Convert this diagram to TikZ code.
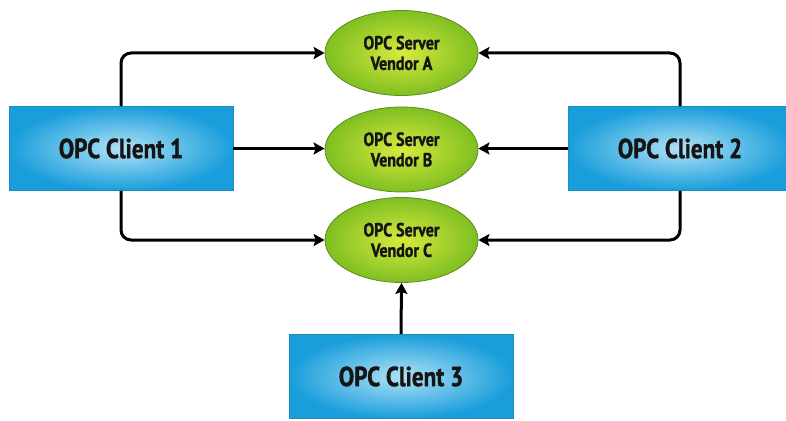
\documentclass[tikz,border=0pt]{standalone}
\usepackage{fontspec}
\setmainfont{PT Sans}[FakeStretch=0.84,BoldFeatures={FakeBold=1.3}]
\usetikzlibrary{arrows.meta,shapes.geometric,calc}
\definecolor{boxedge}{HTML}{1C8CC4}
\definecolor{boxout}{HTML}{1A9EDB}
\definecolor{boxin}{HTML}{B0E2F6}
\definecolor{ellout}{HTML}{7FBF22}
\definecolor{ellin}{HTML}{D8EA3C}
\definecolor{elledge}{HTML}{5E8A1E}
\definecolor{txt}{HTML}{151515}
\tikzset{
  client/.style={rectangle, draw=boxedge, line width=0.8pt, inner color=boxin, outer color=boxout,
    minimum width=224pt, minimum height=84pt, font=\bfseries\fontsize{27.5}{30}\selectfont, text=txt},
  server/.style={ellipse, draw=elledge, line width=0.8pt, inner color=ellin, outer color=ellout,
    minimum width=153pt, minimum height=85pt, inner sep=0pt, align=center,
    font=\bfseries\fontsize{19}{20.5}\selectfont, text=txt},
  conn/.style={line width=3pt, draw=black, rounded corners=10pt,
    -{Stealth[length=11pt,width=12pt,inset=2pt]}}
}
\begin{document}
\begin{tikzpicture}[x=1pt,y=-1pt]
\useasboundingbox[fill=white] (0,0) rectangle (786,420);
\node[server] (A) at (401.5,53) {OPC Server\\Vendor A};
\node[server] (B) at (401.5,149.5) {OPC Server\\Vendor B};
\node[server] (C) at (401.5,240) {OPC Server\\Vendor C};
\node[client] (c1) at (121,148.5) {OPC Client 1};
\node[client] (c2) at (680,148.5) {OPC Client 2};
\node[client] (c3) at (401,376.5) {OPC Client 3};
\draw[conn] (c1.north) |- (A.west);
\draw[conn] (c1.south) |- (C.west);
\draw[conn] (c1.east) -- (c1.east -| B.west);
\draw[conn] (c2.north) |- (A.east);
\draw[conn] (c2.south) |- (C.east);
\draw[conn] (c2.west) -- (c2.west -| B.east);
\draw[conn] (c3.north) -- (C.south);
\end{tikzpicture}
\end{document}
